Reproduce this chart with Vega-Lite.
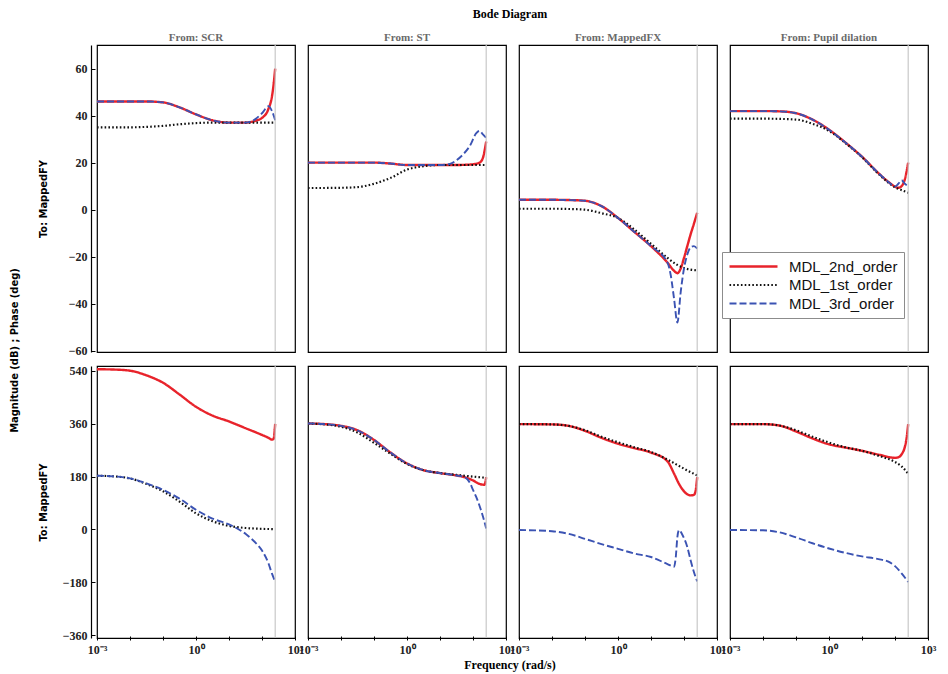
{
  "$schema": "https://vega.github.io/schema/vega-lite/v6.json",
  "background": "white",
  "padding": {"left": 8, "top": 8, "right": 5, "bottom": 2},
  "datasets": {
    "bode": [
      {"p":"SCR","t":"mag","m":"MDL_2nd_order","f":0.001,"v":46},
      {"p":"SCR","t":"mag","m":"MDL_2nd_order","f":0.01,"v":46},
      {"p":"SCR","t":"mag","m":"MDL_2nd_order","f":0.03162,"v":46},
      {"p":"SCR","t":"mag","m":"MDL_2nd_order","f":0.1,"v":45.6},
      {"p":"SCR","t":"mag","m":"MDL_2nd_order","f":0.3162,"v":43.5},
      {"p":"SCR","t":"mag","m":"MDL_2nd_order","f":1,"v":40.5},
      {"p":"SCR","t":"mag","m":"MDL_2nd_order","f":3.162,"v":38},
      {"p":"SCR","t":"mag","m":"MDL_2nd_order","f":10,"v":37},
      {"p":"SCR","t":"mag","m":"MDL_2nd_order","f":31.62,"v":37},
      {"p":"SCR","t":"mag","m":"MDL_2nd_order","f":63.1,"v":37.8},
      {"p":"SCR","t":"mag","m":"MDL_2nd_order","f":100,"v":39},
      {"p":"SCR","t":"mag","m":"MDL_2nd_order","f":158.5,"v":43},
      {"p":"SCR","t":"mag","m":"MDL_2nd_order","f":199.5,"v":48},
      {"p":"SCR","t":"mag","m":"MDL_2nd_order","f":223.9,"v":53},
      {"p":"SCR","t":"mag","m":"MDL_2nd_order","f":251.2,"v":60},
      {"p":"SCR","t":"mag","m":"MDL_1st_order","f":0.001,"v":35},
      {"p":"SCR","t":"mag","m":"MDL_1st_order","f":0.01,"v":35},
      {"p":"SCR","t":"mag","m":"MDL_1st_order","f":0.03162,"v":35.2},
      {"p":"SCR","t":"mag","m":"MDL_1st_order","f":0.1,"v":35.6},
      {"p":"SCR","t":"mag","m":"MDL_1st_order","f":0.3162,"v":36.3},
      {"p":"SCR","t":"mag","m":"MDL_1st_order","f":1,"v":36.8},
      {"p":"SCR","t":"mag","m":"MDL_1st_order","f":3.162,"v":37},
      {"p":"SCR","t":"mag","m":"MDL_1st_order","f":10,"v":37},
      {"p":"SCR","t":"mag","m":"MDL_1st_order","f":31.62,"v":37},
      {"p":"SCR","t":"mag","m":"MDL_1st_order","f":100,"v":37},
      {"p":"SCR","t":"mag","m":"MDL_1st_order","f":251.2,"v":37},
      {"p":"SCR","t":"mag","m":"MDL_3rd_order","f":0.001,"v":46},
      {"p":"SCR","t":"mag","m":"MDL_3rd_order","f":0.01,"v":46},
      {"p":"SCR","t":"mag","m":"MDL_3rd_order","f":0.03162,"v":46},
      {"p":"SCR","t":"mag","m":"MDL_3rd_order","f":0.1,"v":45.6},
      {"p":"SCR","t":"mag","m":"MDL_3rd_order","f":0.3162,"v":43.5},
      {"p":"SCR","t":"mag","m":"MDL_3rd_order","f":1,"v":40.5},
      {"p":"SCR","t":"mag","m":"MDL_3rd_order","f":3.162,"v":38},
      {"p":"SCR","t":"mag","m":"MDL_3rd_order","f":10,"v":37},
      {"p":"SCR","t":"mag","m":"MDL_3rd_order","f":31.62,"v":37},
      {"p":"SCR","t":"mag","m":"MDL_3rd_order","f":63.1,"v":38.5},
      {"p":"SCR","t":"mag","m":"MDL_3rd_order","f":100,"v":41},
      {"p":"SCR","t":"mag","m":"MDL_3rd_order","f":158.5,"v":44},
      {"p":"SCR","t":"mag","m":"MDL_3rd_order","f":199.5,"v":42},
      {"p":"SCR","t":"mag","m":"MDL_3rd_order","f":251.2,"v":38},

      {"p":"ST","t":"mag","m":"MDL_2nd_order","f":0.001,"v":20},
      {"p":"ST","t":"mag","m":"MDL_2nd_order","f":0.01,"v":20},
      {"p":"ST","t":"mag","m":"MDL_2nd_order","f":0.1,"v":20},
      {"p":"ST","t":"mag","m":"MDL_2nd_order","f":0.3162,"v":19.6},
      {"p":"ST","t":"mag","m":"MDL_2nd_order","f":1,"v":19},
      {"p":"ST","t":"mag","m":"MDL_2nd_order","f":3.162,"v":19},
      {"p":"ST","t":"mag","m":"MDL_2nd_order","f":10,"v":19},
      {"p":"ST","t":"mag","m":"MDL_2nd_order","f":31.62,"v":19},
      {"p":"ST","t":"mag","m":"MDL_2nd_order","f":100,"v":19.3},
      {"p":"ST","t":"mag","m":"MDL_2nd_order","f":158.5,"v":20},
      {"p":"ST","t":"mag","m":"MDL_2nd_order","f":199.5,"v":22},
      {"p":"ST","t":"mag","m":"MDL_2nd_order","f":223.9,"v":25},
      {"p":"ST","t":"mag","m":"MDL_2nd_order","f":251.2,"v":29},
      {"p":"ST","t":"mag","m":"MDL_1st_order","f":0.001,"v":9.2},
      {"p":"ST","t":"mag","m":"MDL_1st_order","f":0.01,"v":9.3},
      {"p":"ST","t":"mag","m":"MDL_1st_order","f":0.03162,"v":9.6},
      {"p":"ST","t":"mag","m":"MDL_1st_order","f":0.1,"v":11},
      {"p":"ST","t":"mag","m":"MDL_1st_order","f":0.3162,"v":13.5},
      {"p":"ST","t":"mag","m":"MDL_1st_order","f":1,"v":17},
      {"p":"ST","t":"mag","m":"MDL_1st_order","f":3.162,"v":18.5},
      {"p":"ST","t":"mag","m":"MDL_1st_order","f":10,"v":19},
      {"p":"ST","t":"mag","m":"MDL_1st_order","f":31.62,"v":19},
      {"p":"ST","t":"mag","m":"MDL_1st_order","f":100,"v":19},
      {"p":"ST","t":"mag","m":"MDL_1st_order","f":251.2,"v":19},
      {"p":"ST","t":"mag","m":"MDL_3rd_order","f":0.001,"v":20},
      {"p":"ST","t":"mag","m":"MDL_3rd_order","f":0.01,"v":20},
      {"p":"ST","t":"mag","m":"MDL_3rd_order","f":0.1,"v":20},
      {"p":"ST","t":"mag","m":"MDL_3rd_order","f":0.3162,"v":19.6},
      {"p":"ST","t":"mag","m":"MDL_3rd_order","f":1,"v":19},
      {"p":"ST","t":"mag","m":"MDL_3rd_order","f":3.162,"v":19},
      {"p":"ST","t":"mag","m":"MDL_3rd_order","f":10,"v":19},
      {"p":"ST","t":"mag","m":"MDL_3rd_order","f":19.95,"v":19.5},
      {"p":"ST","t":"mag","m":"MDL_3rd_order","f":31.62,"v":21},
      {"p":"ST","t":"mag","m":"MDL_3rd_order","f":50.12,"v":23.5},
      {"p":"ST","t":"mag","m":"MDL_3rd_order","f":79.43,"v":27},
      {"p":"ST","t":"mag","m":"MDL_3rd_order","f":125.9,"v":32.5},
      {"p":"ST","t":"mag","m":"MDL_3rd_order","f":158.5,"v":33.5},
      {"p":"ST","t":"mag","m":"MDL_3rd_order","f":199.5,"v":32},
      {"p":"ST","t":"mag","m":"MDL_3rd_order","f":251.2,"v":30.5},

      {"p":"MappedFX","t":"mag","m":"MDL_2nd_order","f":0.001,"v":4.2},
      {"p":"MappedFX","t":"mag","m":"MDL_2nd_order","f":0.01,"v":4.2},
      {"p":"MappedFX","t":"mag","m":"MDL_2nd_order","f":0.03162,"v":4.1},
      {"p":"MappedFX","t":"mag","m":"MDL_2nd_order","f":0.1,"v":3.8},
      {"p":"MappedFX","t":"mag","m":"MDL_2nd_order","f":0.3162,"v":1.5},
      {"p":"MappedFX","t":"mag","m":"MDL_2nd_order","f":1,"v":-3.5},
      {"p":"MappedFX","t":"mag","m":"MDL_2nd_order","f":3.162,"v":-9.5},
      {"p":"MappedFX","t":"mag","m":"MDL_2nd_order","f":10,"v":-15.5},
      {"p":"MappedFX","t":"mag","m":"MDL_2nd_order","f":31.62,"v":-22.5},
      {"p":"MappedFX","t":"mag","m":"MDL_2nd_order","f":50.12,"v":-26},
      {"p":"MappedFX","t":"mag","m":"MDL_2nd_order","f":63.1,"v":-27},
      {"p":"MappedFX","t":"mag","m":"MDL_2nd_order","f":79.43,"v":-25},
      {"p":"MappedFX","t":"mag","m":"MDL_2nd_order","f":100,"v":-20.5},
      {"p":"MappedFX","t":"mag","m":"MDL_2nd_order","f":125.9,"v":-15.5},
      {"p":"MappedFX","t":"mag","m":"MDL_2nd_order","f":158.5,"v":-10.5},
      {"p":"MappedFX","t":"mag","m":"MDL_2nd_order","f":199.5,"v":-6},
      {"p":"MappedFX","t":"mag","m":"MDL_2nd_order","f":251.2,"v":-1.3},
      {"p":"MappedFX","t":"mag","m":"MDL_1st_order","f":0.001,"v":0.4},
      {"p":"MappedFX","t":"mag","m":"MDL_1st_order","f":0.01,"v":0.4},
      {"p":"MappedFX","t":"mag","m":"MDL_1st_order","f":0.03162,"v":0.3},
      {"p":"MappedFX","t":"mag","m":"MDL_1st_order","f":0.1,"v":0},
      {"p":"MappedFX","t":"mag","m":"MDL_1st_order","f":0.3162,"v":-1.5},
      {"p":"MappedFX","t":"mag","m":"MDL_1st_order","f":1,"v":-3.5},
      {"p":"MappedFX","t":"mag","m":"MDL_1st_order","f":3.162,"v":-8.5},
      {"p":"MappedFX","t":"mag","m":"MDL_1st_order","f":10,"v":-14.5},
      {"p":"MappedFX","t":"mag","m":"MDL_1st_order","f":31.62,"v":-20.5},
      {"p":"MappedFX","t":"mag","m":"MDL_1st_order","f":63.1,"v":-23.5},
      {"p":"MappedFX","t":"mag","m":"MDL_1st_order","f":100,"v":-24.8},
      {"p":"MappedFX","t":"mag","m":"MDL_1st_order","f":158.5,"v":-25.5},
      {"p":"MappedFX","t":"mag","m":"MDL_1st_order","f":251.2,"v":-25.8},
      {"p":"MappedFX","t":"mag","m":"MDL_3rd_order","f":0.001,"v":4.2},
      {"p":"MappedFX","t":"mag","m":"MDL_3rd_order","f":0.01,"v":4.2},
      {"p":"MappedFX","t":"mag","m":"MDL_3rd_order","f":0.03162,"v":4.1},
      {"p":"MappedFX","t":"mag","m":"MDL_3rd_order","f":0.1,"v":3.8},
      {"p":"MappedFX","t":"mag","m":"MDL_3rd_order","f":0.3162,"v":1.5},
      {"p":"MappedFX","t":"mag","m":"MDL_3rd_order","f":1,"v":-3.5},
      {"p":"MappedFX","t":"mag","m":"MDL_3rd_order","f":3.162,"v":-9.5},
      {"p":"MappedFX","t":"mag","m":"MDL_3rd_order","f":10,"v":-15.5},
      {"p":"MappedFX","t":"mag","m":"MDL_3rd_order","f":31.62,"v":-22.5},
      {"p":"MappedFX","t":"mag","m":"MDL_3rd_order","f":39.81,"v":-28},
      {"p":"MappedFX","t":"mag","m":"MDL_3rd_order","f":50.12,"v":-38},
      {"p":"MappedFX","t":"mag","m":"MDL_3rd_order","f":63.1,"v":-48},
      {"p":"MappedFX","t":"mag","m":"MDL_3rd_order","f":79.43,"v":-35},
      {"p":"MappedFX","t":"mag","m":"MDL_3rd_order","f":100,"v":-25},
      {"p":"MappedFX","t":"mag","m":"MDL_3rd_order","f":125.9,"v":-19},
      {"p":"MappedFX","t":"mag","m":"MDL_3rd_order","f":158.5,"v":-16},
      {"p":"MappedFX","t":"mag","m":"MDL_3rd_order","f":199.5,"v":-15.5},
      {"p":"MappedFX","t":"mag","m":"MDL_3rd_order","f":251.2,"v":-16.5},

      {"p":"Pupil dilation","t":"mag","m":"MDL_2nd_order","f":0.001,"v":41.9},
      {"p":"Pupil dilation","t":"mag","m":"MDL_2nd_order","f":0.01,"v":41.9},
      {"p":"Pupil dilation","t":"mag","m":"MDL_2nd_order","f":0.03162,"v":41.8},
      {"p":"Pupil dilation","t":"mag","m":"MDL_2nd_order","f":0.1,"v":41},
      {"p":"Pupil dilation","t":"mag","m":"MDL_2nd_order","f":0.3162,"v":38.3},
      {"p":"Pupil dilation","t":"mag","m":"MDL_2nd_order","f":1,"v":34},
      {"p":"Pupil dilation","t":"mag","m":"MDL_2nd_order","f":3.162,"v":28.5},
      {"p":"Pupil dilation","t":"mag","m":"MDL_2nd_order","f":10,"v":22.5},
      {"p":"Pupil dilation","t":"mag","m":"MDL_2nd_order","f":31.62,"v":15.5},
      {"p":"Pupil dilation","t":"mag","m":"MDL_2nd_order","f":63.1,"v":11.8},
      {"p":"Pupil dilation","t":"mag","m":"MDL_2nd_order","f":100,"v":9.8},
      {"p":"Pupil dilation","t":"mag","m":"MDL_2nd_order","f":125.9,"v":9.3},
      {"p":"Pupil dilation","t":"mag","m":"MDL_2nd_order","f":158.5,"v":10},
      {"p":"Pupil dilation","t":"mag","m":"MDL_2nd_order","f":199.5,"v":13},
      {"p":"Pupil dilation","t":"mag","m":"MDL_2nd_order","f":251.2,"v":20},
      {"p":"Pupil dilation","t":"mag","m":"MDL_1st_order","f":0.001,"v":38.7},
      {"p":"Pupil dilation","t":"mag","m":"MDL_1st_order","f":0.01,"v":38.7},
      {"p":"Pupil dilation","t":"mag","m":"MDL_1st_order","f":0.1,"v":38.3},
      {"p":"Pupil dilation","t":"mag","m":"MDL_1st_order","f":0.3162,"v":36.5},
      {"p":"Pupil dilation","t":"mag","m":"MDL_1st_order","f":1,"v":33.5},
      {"p":"Pupil dilation","t":"mag","m":"MDL_1st_order","f":3.162,"v":28.3},
      {"p":"Pupil dilation","t":"mag","m":"MDL_1st_order","f":10,"v":22.3},
      {"p":"Pupil dilation","t":"mag","m":"MDL_1st_order","f":31.62,"v":15.2},
      {"p":"Pupil dilation","t":"mag","m":"MDL_1st_order","f":63.1,"v":11.5},
      {"p":"Pupil dilation","t":"mag","m":"MDL_1st_order","f":100,"v":9.5},
      {"p":"Pupil dilation","t":"mag","m":"MDL_1st_order","f":158.5,"v":8.3},
      {"p":"Pupil dilation","t":"mag","m":"MDL_1st_order","f":251.2,"v":7.2},
      {"p":"Pupil dilation","t":"mag","m":"MDL_3rd_order","f":0.001,"v":41.9},
      {"p":"Pupil dilation","t":"mag","m":"MDL_3rd_order","f":0.01,"v":41.9},
      {"p":"Pupil dilation","t":"mag","m":"MDL_3rd_order","f":0.03162,"v":41.8},
      {"p":"Pupil dilation","t":"mag","m":"MDL_3rd_order","f":0.1,"v":41},
      {"p":"Pupil dilation","t":"mag","m":"MDL_3rd_order","f":0.3162,"v":38.3},
      {"p":"Pupil dilation","t":"mag","m":"MDL_3rd_order","f":1,"v":34},
      {"p":"Pupil dilation","t":"mag","m":"MDL_3rd_order","f":3.162,"v":28.5},
      {"p":"Pupil dilation","t":"mag","m":"MDL_3rd_order","f":10,"v":22.5},
      {"p":"Pupil dilation","t":"mag","m":"MDL_3rd_order","f":31.62,"v":15.5},
      {"p":"Pupil dilation","t":"mag","m":"MDL_3rd_order","f":63.1,"v":11.8},
      {"p":"Pupil dilation","t":"mag","m":"MDL_3rd_order","f":100,"v":9.8},
      {"p":"Pupil dilation","t":"mag","m":"MDL_3rd_order","f":125.9,"v":11},
      {"p":"Pupil dilation","t":"mag","m":"MDL_3rd_order","f":158.5,"v":12.5},
      {"p":"Pupil dilation","t":"mag","m":"MDL_3rd_order","f":199.5,"v":11},
      {"p":"Pupil dilation","t":"mag","m":"MDL_3rd_order","f":251.2,"v":10},

      {"p":"SCR","t":"phase","m":"MDL_2nd_order","f":0.001,"v":546},
      {"p":"SCR","t":"phase","m":"MDL_2nd_order","f":0.003162,"v":545},
      {"p":"SCR","t":"phase","m":"MDL_2nd_order","f":0.01,"v":541},
      {"p":"SCR","t":"phase","m":"MDL_2nd_order","f":0.03162,"v":525},
      {"p":"SCR","t":"phase","m":"MDL_2nd_order","f":0.1,"v":500},
      {"p":"SCR","t":"phase","m":"MDL_2nd_order","f":0.3162,"v":460},
      {"p":"SCR","t":"phase","m":"MDL_2nd_order","f":1,"v":418},
      {"p":"SCR","t":"phase","m":"MDL_2nd_order","f":3.162,"v":388},
      {"p":"SCR","t":"phase","m":"MDL_2nd_order","f":10,"v":368},
      {"p":"SCR","t":"phase","m":"MDL_2nd_order","f":31.62,"v":345},
      {"p":"SCR","t":"phase","m":"MDL_2nd_order","f":100,"v":322},
      {"p":"SCR","t":"phase","m":"MDL_2nd_order","f":158.5,"v":312},
      {"p":"SCR","t":"phase","m":"MDL_2nd_order","f":199.5,"v":306},
      {"p":"SCR","t":"phase","m":"MDL_2nd_order","f":223.9,"v":308},
      {"p":"SCR","t":"phase","m":"MDL_2nd_order","f":251.2,"v":360},
      {"p":"SCR","t":"phase","m":"MDL_1st_order","f":0.001,"v":183},
      {"p":"SCR","t":"phase","m":"MDL_1st_order","f":0.003162,"v":181},
      {"p":"SCR","t":"phase","m":"MDL_1st_order","f":0.01,"v":174},
      {"p":"SCR","t":"phase","m":"MDL_1st_order","f":0.03162,"v":155},
      {"p":"SCR","t":"phase","m":"MDL_1st_order","f":0.1,"v":130},
      {"p":"SCR","t":"phase","m":"MDL_1st_order","f":0.3162,"v":95},
      {"p":"SCR","t":"phase","m":"MDL_1st_order","f":1,"v":55},
      {"p":"SCR","t":"phase","m":"MDL_1st_order","f":3.162,"v":28},
      {"p":"SCR","t":"phase","m":"MDL_1st_order","f":10,"v":12},
      {"p":"SCR","t":"phase","m":"MDL_1st_order","f":31.62,"v":5},
      {"p":"SCR","t":"phase","m":"MDL_1st_order","f":100,"v":2},
      {"p":"SCR","t":"phase","m":"MDL_1st_order","f":251.2,"v":1},
      {"p":"SCR","t":"phase","m":"MDL_3rd_order","f":0.001,"v":183},
      {"p":"SCR","t":"phase","m":"MDL_3rd_order","f":0.003162,"v":181},
      {"p":"SCR","t":"phase","m":"MDL_3rd_order","f":0.01,"v":174},
      {"p":"SCR","t":"phase","m":"MDL_3rd_order","f":0.03162,"v":157},
      {"p":"SCR","t":"phase","m":"MDL_3rd_order","f":0.1,"v":135},
      {"p":"SCR","t":"phase","m":"MDL_3rd_order","f":0.3162,"v":105},
      {"p":"SCR","t":"phase","m":"MDL_3rd_order","f":1,"v":67},
      {"p":"SCR","t":"phase","m":"MDL_3rd_order","f":3.162,"v":37},
      {"p":"SCR","t":"phase","m":"MDL_3rd_order","f":10,"v":17},
      {"p":"SCR","t":"phase","m":"MDL_3rd_order","f":31.62,"v":-15},
      {"p":"SCR","t":"phase","m":"MDL_3rd_order","f":63.1,"v":-45},
      {"p":"SCR","t":"phase","m":"MDL_3rd_order","f":100,"v":-72},
      {"p":"SCR","t":"phase","m":"MDL_3rd_order","f":158.5,"v":-117},
      {"p":"SCR","t":"phase","m":"MDL_3rd_order","f":199.5,"v":-150},
      {"p":"SCR","t":"phase","m":"MDL_3rd_order","f":251.2,"v":-178},

      {"p":"ST","t":"phase","m":"MDL_2nd_order","f":0.001,"v":361},
      {"p":"ST","t":"phase","m":"MDL_2nd_order","f":0.003162,"v":359},
      {"p":"ST","t":"phase","m":"MDL_2nd_order","f":0.01,"v":353},
      {"p":"ST","t":"phase","m":"MDL_2nd_order","f":0.03162,"v":338},
      {"p":"ST","t":"phase","m":"MDL_2nd_order","f":0.1,"v":305},
      {"p":"ST","t":"phase","m":"MDL_2nd_order","f":0.3162,"v":262},
      {"p":"ST","t":"phase","m":"MDL_2nd_order","f":1,"v":225},
      {"p":"ST","t":"phase","m":"MDL_2nd_order","f":3.162,"v":202},
      {"p":"ST","t":"phase","m":"MDL_2nd_order","f":10,"v":192},
      {"p":"ST","t":"phase","m":"MDL_2nd_order","f":31.62,"v":184},
      {"p":"ST","t":"phase","m":"MDL_2nd_order","f":56.23,"v":178},
      {"p":"ST","t":"phase","m":"MDL_2nd_order","f":100,"v":167},
      {"p":"ST","t":"phase","m":"MDL_2nd_order","f":158.5,"v":155},
      {"p":"ST","t":"phase","m":"MDL_2nd_order","f":223.9,"v":152},
      {"p":"ST","t":"phase","m":"MDL_2nd_order","f":251.2,"v":178},
      {"p":"ST","t":"phase","m":"MDL_1st_order","f":0.001,"v":361},
      {"p":"ST","t":"phase","m":"MDL_1st_order","f":0.003162,"v":358},
      {"p":"ST","t":"phase","m":"MDL_1st_order","f":0.01,"v":350},
      {"p":"ST","t":"phase","m":"MDL_1st_order","f":0.03162,"v":330},
      {"p":"ST","t":"phase","m":"MDL_1st_order","f":0.1,"v":295},
      {"p":"ST","t":"phase","m":"MDL_1st_order","f":0.3162,"v":258},
      {"p":"ST","t":"phase","m":"MDL_1st_order","f":1,"v":223},
      {"p":"ST","t":"phase","m":"MDL_1st_order","f":3.162,"v":202},
      {"p":"ST","t":"phase","m":"MDL_1st_order","f":10,"v":192},
      {"p":"ST","t":"phase","m":"MDL_1st_order","f":31.62,"v":186},
      {"p":"ST","t":"phase","m":"MDL_1st_order","f":100,"v":180},
      {"p":"ST","t":"phase","m":"MDL_1st_order","f":251.2,"v":176},
      {"p":"ST","t":"phase","m":"MDL_3rd_order","f":0.001,"v":361},
      {"p":"ST","t":"phase","m":"MDL_3rd_order","f":0.003162,"v":359},
      {"p":"ST","t":"phase","m":"MDL_3rd_order","f":0.01,"v":353},
      {"p":"ST","t":"phase","m":"MDL_3rd_order","f":0.03162,"v":338},
      {"p":"ST","t":"phase","m":"MDL_3rd_order","f":0.1,"v":305},
      {"p":"ST","t":"phase","m":"MDL_3rd_order","f":0.3162,"v":262},
      {"p":"ST","t":"phase","m":"MDL_3rd_order","f":1,"v":225},
      {"p":"ST","t":"phase","m":"MDL_3rd_order","f":3.162,"v":202},
      {"p":"ST","t":"phase","m":"MDL_3rd_order","f":10,"v":192},
      {"p":"ST","t":"phase","m":"MDL_3rd_order","f":31.62,"v":184},
      {"p":"ST","t":"phase","m":"MDL_3rd_order","f":56.23,"v":178},
      {"p":"ST","t":"phase","m":"MDL_3rd_order","f":79.43,"v":160},
      {"p":"ST","t":"phase","m":"MDL_3rd_order","f":100,"v":135},
      {"p":"ST","t":"phase","m":"MDL_3rd_order","f":125.9,"v":110},
      {"p":"ST","t":"phase","m":"MDL_3rd_order","f":158.5,"v":80},
      {"p":"ST","t":"phase","m":"MDL_3rd_order","f":199.5,"v":45},
      {"p":"ST","t":"phase","m":"MDL_3rd_order","f":251.2,"v":3},

      {"p":"MappedFX","t":"phase","m":"MDL_2nd_order","f":0.001,"v":359},
      {"p":"MappedFX","t":"phase","m":"MDL_2nd_order","f":0.01,"v":358},
      {"p":"MappedFX","t":"phase","m":"MDL_2nd_order","f":0.03162,"v":353},
      {"p":"MappedFX","t":"phase","m":"MDL_2nd_order","f":0.1,"v":336},
      {"p":"MappedFX","t":"phase","m":"MDL_2nd_order","f":0.3162,"v":312},
      {"p":"MappedFX","t":"phase","m":"MDL_2nd_order","f":1,"v":292},
      {"p":"MappedFX","t":"phase","m":"MDL_2nd_order","f":3.162,"v":277},
      {"p":"MappedFX","t":"phase","m":"MDL_2nd_order","f":10,"v":262},
      {"p":"MappedFX","t":"phase","m":"MDL_2nd_order","f":31.62,"v":232},
      {"p":"MappedFX","t":"phase","m":"MDL_2nd_order","f":50.12,"v":190},
      {"p":"MappedFX","t":"phase","m":"MDL_2nd_order","f":70.79,"v":155},
      {"p":"MappedFX","t":"phase","m":"MDL_2nd_order","f":100,"v":130},
      {"p":"MappedFX","t":"phase","m":"MDL_2nd_order","f":158.5,"v":116},
      {"p":"MappedFX","t":"phase","m":"MDL_2nd_order","f":199.5,"v":118},
      {"p":"MappedFX","t":"phase","m":"MDL_2nd_order","f":223.9,"v":130},
      {"p":"MappedFX","t":"phase","m":"MDL_2nd_order","f":251.2,"v":178},
      {"p":"MappedFX","t":"phase","m":"MDL_1st_order","f":0.001,"v":359},
      {"p":"MappedFX","t":"phase","m":"MDL_1st_order","f":0.01,"v":358},
      {"p":"MappedFX","t":"phase","m":"MDL_1st_order","f":0.03162,"v":353},
      {"p":"MappedFX","t":"phase","m":"MDL_1st_order","f":0.1,"v":338},
      {"p":"MappedFX","t":"phase","m":"MDL_1st_order","f":0.3162,"v":316},
      {"p":"MappedFX","t":"phase","m":"MDL_1st_order","f":1,"v":297},
      {"p":"MappedFX","t":"phase","m":"MDL_1st_order","f":3.162,"v":280},
      {"p":"MappedFX","t":"phase","m":"MDL_1st_order","f":10,"v":264},
      {"p":"MappedFX","t":"phase","m":"MDL_1st_order","f":31.62,"v":238},
      {"p":"MappedFX","t":"phase","m":"MDL_1st_order","f":100,"v":207},
      {"p":"MappedFX","t":"phase","m":"MDL_1st_order","f":251.2,"v":184},
      {"p":"MappedFX","t":"phase","m":"MDL_3rd_order","f":0.001,"v":-2},
      {"p":"MappedFX","t":"phase","m":"MDL_3rd_order","f":0.01,"v":-6},
      {"p":"MappedFX","t":"phase","m":"MDL_3rd_order","f":0.03162,"v":-15},
      {"p":"MappedFX","t":"phase","m":"MDL_3rd_order","f":0.1,"v":-32},
      {"p":"MappedFX","t":"phase","m":"MDL_3rd_order","f":0.3162,"v":-50},
      {"p":"MappedFX","t":"phase","m":"MDL_3rd_order","f":1,"v":-66},
      {"p":"MappedFX","t":"phase","m":"MDL_3rd_order","f":3.162,"v":-82},
      {"p":"MappedFX","t":"phase","m":"MDL_3rd_order","f":10,"v":-94},
      {"p":"MappedFX","t":"phase","m":"MDL_3rd_order","f":31.62,"v":-118},
      {"p":"MappedFX","t":"phase","m":"MDL_3rd_order","f":50.12,"v":-127},
      {"p":"MappedFX","t":"phase","m":"MDL_3rd_order","f":56.23,"v":-95},
      {"p":"MappedFX","t":"phase","m":"MDL_3rd_order","f":63.1,"v":-25},
      {"p":"MappedFX","t":"phase","m":"MDL_3rd_order","f":70.79,"v":-2},
      {"p":"MappedFX","t":"phase","m":"MDL_3rd_order","f":89.13,"v":-18},
      {"p":"MappedFX","t":"phase","m":"MDL_3rd_order","f":125.9,"v":-60},
      {"p":"MappedFX","t":"phase","m":"MDL_3rd_order","f":158.5,"v":-105},
      {"p":"MappedFX","t":"phase","m":"MDL_3rd_order","f":199.5,"v":-145},
      {"p":"MappedFX","t":"phase","m":"MDL_3rd_order","f":251.2,"v":-177},

      {"p":"Pupil dilation","t":"phase","m":"MDL_2nd_order","f":0.001,"v":359},
      {"p":"Pupil dilation","t":"phase","m":"MDL_2nd_order","f":0.01,"v":359},
      {"p":"Pupil dilation","t":"phase","m":"MDL_2nd_order","f":0.03162,"v":354},
      {"p":"Pupil dilation","t":"phase","m":"MDL_2nd_order","f":0.1,"v":334},
      {"p":"Pupil dilation","t":"phase","m":"MDL_2nd_order","f":0.3162,"v":310},
      {"p":"Pupil dilation","t":"phase","m":"MDL_2nd_order","f":1,"v":290},
      {"p":"Pupil dilation","t":"phase","m":"MDL_2nd_order","f":3.162,"v":279},
      {"p":"Pupil dilation","t":"phase","m":"MDL_2nd_order","f":10,"v":268},
      {"p":"Pupil dilation","t":"phase","m":"MDL_2nd_order","f":31.62,"v":255},
      {"p":"Pupil dilation","t":"phase","m":"MDL_2nd_order","f":100,"v":244},
      {"p":"Pupil dilation","t":"phase","m":"MDL_2nd_order","f":125.9,"v":246},
      {"p":"Pupil dilation","t":"phase","m":"MDL_2nd_order","f":158.5,"v":256},
      {"p":"Pupil dilation","t":"phase","m":"MDL_2nd_order","f":199.5,"v":282},
      {"p":"Pupil dilation","t":"phase","m":"MDL_2nd_order","f":223.9,"v":310},
      {"p":"Pupil dilation","t":"phase","m":"MDL_2nd_order","f":251.2,"v":359},
      {"p":"Pupil dilation","t":"phase","m":"MDL_1st_order","f":0.001,"v":359},
      {"p":"Pupil dilation","t":"phase","m":"MDL_1st_order","f":0.01,"v":359},
      {"p":"Pupil dilation","t":"phase","m":"MDL_1st_order","f":0.03162,"v":354},
      {"p":"Pupil dilation","t":"phase","m":"MDL_1st_order","f":0.1,"v":338},
      {"p":"Pupil dilation","t":"phase","m":"MDL_1st_order","f":0.3162,"v":316},
      {"p":"Pupil dilation","t":"phase","m":"MDL_1st_order","f":1,"v":296},
      {"p":"Pupil dilation","t":"phase","m":"MDL_1st_order","f":3.162,"v":280},
      {"p":"Pupil dilation","t":"phase","m":"MDL_1st_order","f":10,"v":268},
      {"p":"Pupil dilation","t":"phase","m":"MDL_1st_order","f":31.62,"v":251},
      {"p":"Pupil dilation","t":"phase","m":"MDL_1st_order","f":100,"v":230},
      {"p":"Pupil dilation","t":"phase","m":"MDL_1st_order","f":158.5,"v":215},
      {"p":"Pupil dilation","t":"phase","m":"MDL_1st_order","f":251.2,"v":190},
      {"p":"Pupil dilation","t":"phase","m":"MDL_3rd_order","f":0.001,"v":-2},
      {"p":"Pupil dilation","t":"phase","m":"MDL_3rd_order","f":0.01,"v":-3},
      {"p":"Pupil dilation","t":"phase","m":"MDL_3rd_order","f":0.03162,"v":-10},
      {"p":"Pupil dilation","t":"phase","m":"MDL_3rd_order","f":0.1,"v":-27},
      {"p":"Pupil dilation","t":"phase","m":"MDL_3rd_order","f":0.3162,"v":-47},
      {"p":"Pupil dilation","t":"phase","m":"MDL_3rd_order","f":1,"v":-65},
      {"p":"Pupil dilation","t":"phase","m":"MDL_3rd_order","f":3.162,"v":-80},
      {"p":"Pupil dilation","t":"phase","m":"MDL_3rd_order","f":10,"v":-92},
      {"p":"Pupil dilation","t":"phase","m":"MDL_3rd_order","f":31.62,"v":-101},
      {"p":"Pupil dilation","t":"phase","m":"MDL_3rd_order","f":63.1,"v":-110},
      {"p":"Pupil dilation","t":"phase","m":"MDL_3rd_order","f":100,"v":-125},
      {"p":"Pupil dilation","t":"phase","m":"MDL_3rd_order","f":158.5,"v":-150},
      {"p":"Pupil dilation","t":"phase","m":"MDL_3rd_order","f":251.2,"v":-179}
    ]
  },
  "data": {"name": "bode"},
  "spacing": 10,
  "hconcat": [
    {
      "width": 1,
      "height": 560,
      "view": {"stroke": null},
      "mark": {"type": "point", "opacity": 0},
      "encoding": {
        "y": {
          "field": "v", "type": "quantitative",
          "axis": {
            "title": "Magnitude (dB) ; Phase (deg)",
            "labels": false, "ticks": false, "domain": false, "grid": false,
            "titleFont": "Liberation Sans Narrow, DejaVu Sans Condensed, Liberation Sans",
            "titleFontSize": 11, "titleFontWeight": "bold", "titleColor": "#000",
            "titlePadding": 4, "titleY": 305
          }
        }
      }
    },
    {
      "spacing": 5,
      "vconcat": [
        {
          "transform": [{"filter": "datum.t == 'mag'"}],
          "spacing": {"column": 6, "row": 0},
          "facet": {
            "column": {
              "field": "p", "type": "nominal",
              "sort": ["SCR", "ST", "MappedFX", "Pupil dilation"],
              "header": {
                "title": "Bode Diagram",
                "titleFont": "Liberation Serif", "titleFontSize": 12, "titleFontWeight": "bold", "titleColor": "#000",
                "titlePadding": 1,
                "labelExpr": "'From: ' + datum.value",
                "labelFont": "Liberation Serif", "labelFontSize": 11, "labelFontWeight": "bold", "labelColor": "#6a6a6a",
                "labelPadding": 0
              }
            }
          },
          "spec": {
            "width": 198,
            "height": 307,
            "layer": [
              {
                "mark": {"type": "line", "interpolate": "monotone"},
                "encoding": {
                  "x": {"field": "f", "type": "quantitative", "scale": {"type": "log", "domain": [0.001, 1000]}, "axis": null},
                  "y": {
                    "field": "v", "type": "quantitative",
                    "scale": {"domain": [-60.5, 70], "nice": false, "zero": false},
                    "axis": {
                      "title": "To: MappedFY",
                      "values": [-60, -40, -20, 0, 20, 40, 60],
                      "tickSize": -4, "tickColor": "#000", "domainColor": "#000", "domainWidth": 1.2,
                      "labelPadding": 8, "labelFont": "Liberation Serif", "labelFontWeight": "bold", "labelFontSize": 12, "labelColor": "#222",
                      "titleFont": "Liberation Sans Narrow, DejaVu Sans Condensed, Liberation Sans", "titleFontSize": 11, "titleFontWeight": "bold", "titleColor": "#000",
                      "titlePadding": 20
                    }
                  },
                  "color": {
                    "field": "m", "type": "nominal",
                    "scale": {"domain": ["MDL_2nd_order", "MDL_1st_order", "MDL_3rd_order"], "range": ["#e8232b", "#111111", "#3b53b3"]},
                    "legend": {"title": null, "orient": "none", "legendX": 699, "legendY": 207}
                  },
                  "strokeDash": {
                    "field": "m", "type": "nominal",
                    "scale": {"domain": ["MDL_2nd_order", "MDL_1st_order", "MDL_3rd_order"], "range": [[1, 0], [1.6, 2.2], [7, 3]]},
                    "legend": {"title": null, "orient": "none", "legendX": 699, "legendY": 207}
                  },
                  "strokeWidth": {
                    "field": "m", "type": "nominal",
                    "scale": {"domain": ["MDL_2nd_order", "MDL_1st_order", "MDL_3rd_order"], "range": [2.4, 1.9, 2.6]},
                    "legend": {"title": null, "orient": "none", "legendX": 699, "legendY": 207}
                  }
                }
              },
              {
                "transform": [{"aggregate": [{"op": "max", "field": "f", "as": "f"}]}],
                "mark": {"type": "rule", "color": "#c8c8c8", "strokeWidth": 1.2},
                "encoding": {
                  "x": {"field": "f", "type": "quantitative", "scale": {"type": "log", "domain": [0.001, 1000]}, "axis": null}
                }
              }
            ]
          }
        },
        {
          "transform": [{"filter": "datum.t == 'phase'"}],
          "spacing": {"column": 6, "row": 0},
          "facet": {
            "column": {
              "field": "p", "type": "nominal",
              "sort": ["SCR", "ST", "MappedFX", "Pupil dilation"],
              "header": {
                "title": "Frequency  (rad/s)",
                "titleOrient": "bottom",
                "titleBaseline": "middle",
                "titleFont": "Liberation Serif", "titleFontSize": 12, "titleFontWeight": "bold", "titleColor": "#000",
                "titlePadding": 0,
                "labelExpr": "''",
                "labelFontSize": 1,
                "labelPadding": 0
              }
            }
          },
          "spec": {
            "width": 198,
            "height": 272,
            "layer": [
              {
                "mark": {"type": "line", "interpolate": "monotone"},
                "encoding": {
                  "x": {
                    "field": "f", "type": "quantitative", "scale": {"type": "log", "domain": [0.001, 1000]},
                    "axis": {
                      "title": null,
                      "values": [0.001, 0.01, 0.1, 1, 10, 100, 1000],
                      "labelExpr": "datum.value == 0.001 ? '10⁻³' : datum.value == 1 ? '10⁰' : datum.value == 1000 ? '10³' : ''",
                      "labelOverlap": false, "labelBound": false, "labelFlush": false,
                      "domain": false,
                      "tickSize": -4, "tickColor": "#000",
                      "labelPadding": 8, "labelFont": "Liberation Serif", "labelFontWeight": "bold", "labelFontSize": 12, "labelColor": "#222"
                    }
                  },
                  "y": {
                    "field": "v", "type": "quantitative",
                    "scale": {"domain": [-370, 557], "nice": false, "zero": false},
                    "axis": {
                      "title": "To: MappedFY",
                      "values": [-360, -180, 0, 180, 360, 540],
                      "tickSize": -4, "tickColor": "#000", "domainColor": "#000", "domainWidth": 1.2,
                      "labelPadding": 8, "labelFont": "Liberation Serif", "labelFontWeight": "bold", "labelFontSize": 12, "labelColor": "#222",
                      "titleFont": "Liberation Sans Narrow, DejaVu Sans Condensed, Liberation Sans", "titleFontSize": 11, "titleFontWeight": "bold", "titleColor": "#000",
                      "titlePadding": 14
                    }
                  },
                  "color": {
                    "field": "m", "type": "nominal",
                    "scale": {"domain": ["MDL_2nd_order", "MDL_1st_order", "MDL_3rd_order"], "range": ["#e8232b", "#111111", "#3b53b3"]},
                    "legend": null
                  },
                  "strokeDash": {
                    "field": "m", "type": "nominal",
                    "scale": {"domain": ["MDL_2nd_order", "MDL_1st_order", "MDL_3rd_order"], "range": [[1, 0], [1.6, 2.2], [7, 3]]},
                    "legend": null
                  },
                  "strokeWidth": {
                    "field": "m", "type": "nominal",
                    "scale": {"domain": ["MDL_2nd_order", "MDL_1st_order", "MDL_3rd_order"], "range": [2.4, 1.9, 2.6]},
                    "legend": null
                  }
                }
              },
              {
                "transform": [{"aggregate": [{"op": "max", "field": "f", "as": "f"}]}],
                "mark": {"type": "rule", "color": "#c8c8c8", "strokeWidth": 1.2},
                "encoding": {
                  "x": {"field": "f", "type": "quantitative", "scale": {"type": "log", "domain": [0.001, 1000]}, "title": null}
                }
              }
            ]
          }
        }
      ]
    }
  ],
  "config": {
    "view": {"stroke": "#000", "strokeWidth": 1.2},
    "facet": {"spacing": 6},
    "axis": {"grid": false},
    "legend": {
      "fillColor": "#ffffff",
      "strokeColor": "#8c8c8c",
      "padding": 6,
      "symbolType": "stroke",
      "symbolSize": 2304,
      "symbolOffset": 0,
      "clipHeight": 17,
      "labelFont": "Liberation Sans",
      "labelFontSize": 15,
      "labelColor": "#111",
      "labelOffset": 10,
      "rowPadding": 1.5,
      "labelLimit": 220
    }
  }
}
